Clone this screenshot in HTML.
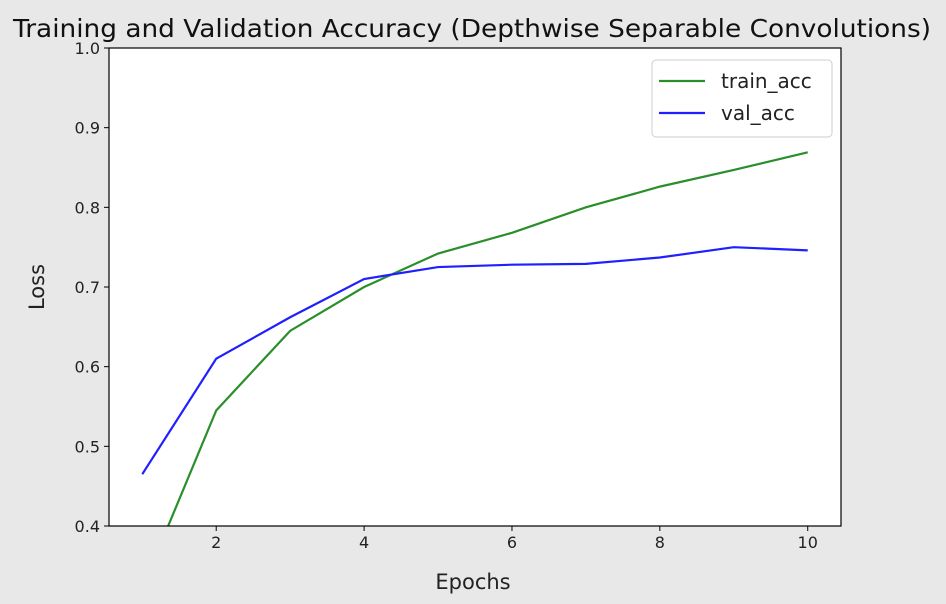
<!DOCTYPE html>
<html><head><meta charset="utf-8"><style>
html,body{margin:0;padding:0;background:#e8e8e8;}
svg{display:block;font-family:"DejaVu Sans","Liberation Sans",sans-serif;}
</style></head><body>
<svg width="946" height="604">
<rect width="946" height="604" fill="#e8e8e8"/>
<text x="472" y="37" text-anchor="middle" font-size="25" textLength="918" lengthAdjust="spacingAndGlyphs" fill="#111">Training and Validation Accuracy (Depthwise Separable Convolutions)</text>
<g id="plot"></g>
</svg>
<script>
const epochs=[1,2,3,4,5,6,7,8,9,10];
const trainAcc=[0.322,0.545,0.645,0.700,0.742,0.768,0.800,0.826,0.847,0.869];
const valAcc=[0.465,0.610,0.662,0.710,0.725,0.728,0.729,0.737,0.750,0.746];
const xTicks=[2,4,6,8,10];
const yTicks=[0.4,0.5,0.6,0.7,0.8,0.9,1.0];
const L=109,R=841,T=48,B=526,xMin=0.55,xMax=10.45,yMin=0.4,yMax=1.0;
const sx=v=>L+(v-xMin)/(xMax-xMin)*(R-L);
const sy=v=>B-(v-yMin)/(yMax-yMin)*(B-T);
const NS="http://www.w3.org/2000/svg";
const g=document.getElementById('plot');
function mk(t,a,p){const e=document.createElementNS(NS,t);for(const k in a)e.setAttribute(k,a[k]);(p||g).appendChild(e);return e;}
const bg=mk('rect',{x:L,y:T,width:R-L,height:B-T,fill:'#fff'});


const defs=mk('defs',{});
const cp=mk('clipPath',{id:'clip'},defs);
mk('rect',{x:L,y:T,width:R-L,height:B-T},cp);
xTicks.forEach(v=>{
 const tk=mk('line',{x1:sx(v),x2:sx(v),y1:B,y2:B+5,stroke:'#000'});
 
 
 const t=mk('text',{x:sx(v),y:B+22,'text-anchor':'middle','font-size':16,fill:'#222'});t.textContent=v;
 
 
});
yTicks.forEach(v=>{
 const tk=mk('line',{x1:L-5,x2:L,y1:sy(v),y2:sy(v),stroke:'#000'});
 
 
 const t=mk('text',{x:L-9,y:sy(v)+6,'text-anchor':'end','font-size':16,fill:'#222'});t.textContent=v.toFixed(1);
 
 
});
function series(vals,color,name){
 const p=mk('polyline',{points:epochs.map((e,i)=>sx(e)+','+sy(vals[i])).join(' '),fill:'none',stroke:color,'stroke-width':2.2,'clip-path':'url(#clip)'});
 
 
}
series(trainAcc,'#2a8f2a','train-acc-line');
series(valAcc,'#1f1fff','val-acc-line');
const fr=mk('rect',{x:L,y:T,width:R-L,height:B-T,fill:'none',stroke:'#000','stroke-width':1.2});


const xl=mk('text',{x:473,y:589,'text-anchor':'middle','font-size':21,fill:'#222'});xl.textContent='Epochs';


const yl=mk('text',{x:44,y:(T+B)/2,'text-anchor':'middle','font-size':21,fill:'#222',transform:'rotate(-90 44 '+((T+B)/2)+')'});yl.textContent='Loss';


const lg=mk('g',{});


mk('rect',{x:652,y:60,width:180,height:77,rx:4,fill:'#fff',stroke:'#ccc'},lg);
[['train_acc','#2a8f2a',81],['val_acc','#1f1fff',113]].forEach(([n,c,y])=>{
 const l=mk('line',{x1:659,x2:705,y1:y,y2:y,stroke:c,'stroke-width':2.2},lg);
 
 
 const t=mk('text',{x:721,y:y+7,'font-size':20,fill:'#222'},lg);t.textContent=n;
 
 
});
</script>
</body></html>
